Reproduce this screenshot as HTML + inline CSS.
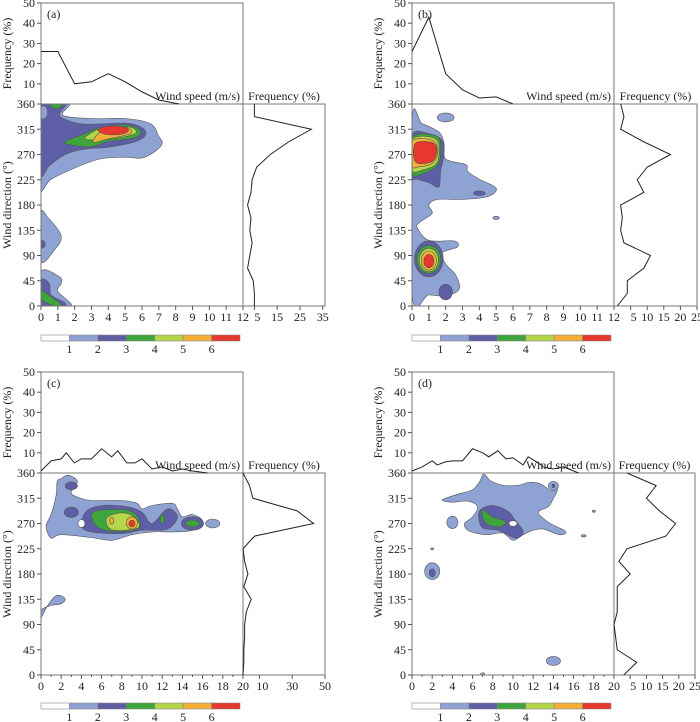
<!DOCTYPE html>
<html><head><meta charset="utf-8">
<style>
html,body{margin:0;padding:0;background:#fff;}
svg{display:block;font-family:"Liberation Serif",serif;}
</style></head>
<body>
<svg id="fig" width="700" height="722" viewBox="0 0 700 722" xmlns="http://www.w3.org/2000/svg" font-family="Liberation Serif, serif"></svg>
<script>
// ---------- DATA ----------
const levelColors = ["#8fa2d4","#5d5ea6","#3ea53c","#b5d54a","#f4b034","#e6382c"];
const levelLabels = ["1","2","3","4","5","6"];

// Panel a
const aSpeed = [0,1,2,3,4,5,6,7,8.2];
const aSpeedFreq = [26,26,10,11,15,11,6,2,0];
const aDirs = [0,22.5,45,67.5,90,112.5,135,157.5,180,202.5,225,247.5,270,292.5,315,337.5,360];
const aDirFreq = [5,5,4.5,2,3,4,3,3.5,2,3.5,4,6,12,20,30,5,5];
const aBlobs = [
 {lv:1,pts:[[0,362],[1.7,362],[1.3,340],[3,334],[5,334],[6.5,325],[7,302],[7.2,290],[6.8,276],[6,264],[5,265],[3.5,262],[2,246],[0.6,226],[-0.1,212]]},
 {lv:2,pts:[[-0.1,362],[0.4,362],[0.8,352],[1.2,362],[1.6,362],[1.1,340],[2,327],[3,324],[5,326],[6,318],[6.2,304],[5.5,292],[4,283],[3,281],[2,276],[1.2,266],[0.5,250],[-0.1,236]]},
 {lv:1,e:[0.15,345,0.25,12]},
 {lv:3,pts:[[1.4,292],[2.5,306],[3.5,318],[5,323],[5.9,313],[5.6,300],[4,293],[3,284],[2,286]]},
 {lv:4,pts:[[2.6,298],[3.2,312],[4.2,320],[5.4,318],[5.6,307],[4.5,299],[3.5,296]]},
 {lv:5,pts:[[3.1,292],[3.5,310],[4.3,320],[5.2,317],[5.3,307],[4,298]]},
 {lv:6,e:[4.3,313,0.9,8]},
 {lv:3,e:[0.9,358,0.35,6]},
 {lv:1,pts:[[0,165],[0.4,158],[1.2,125],[0.8,100],[0,80]]},
 {lv:2,e:[0.05,110,0.2,7]},
 {lv:1,pts:[[0,62],[1.1,52],[1.2,40],[1,26],[1.8,0],[0,0]]},
 {lv:2,pts:[[0,46],[0.5,40],[0.6,20],[1.4,6],[1.3,0],[0,0]]},
 {lv:3,pts:[[0,28],[0.8,12],[1.2,3],[0.9,0],[0.3,6],[0,14]]}
];
// Panel b
const bSpeed = [0,1,2,3,4,5,6];
const bSpeedFreq = [26,43,15,7,3,3.5,0];
const bDirs = aDirs;
const bDirFreq = [1,4,4,9,11,3,2,2.5,2,9,7,10,17,9,2,3,2];
const bBlobs = [
 {lv:1,pts:[[0,330],[0.6,325],[1.6,310],[1.9,290],[2,262],[3.2,252],[3.3,240],[4,226],[5,210],[4.5,195],[3,190],[1.5,190],[1,180],[1.2,165],[0.5,150],[0.3,140],[1,117],[2.5,116],[2.7,105],[1.8,95],[2,75],[2.6,55],[2.8,30],[2,18],[1,20],[0,20]]},
 {lv:1,e:[2,336,0.5,8]},
 {lv:1,e:[5,157,0.2,3]},
 {lv:2,pts:[[0,305],[1,307],[1.8,295],[1.9,270],[1.7,240],[1.6,212],[1,220],[0.3,226],[0,232]]},
 {lv:2,e:[4,201,0.35,4]},
 {lv:2,e:[2,25,0.4,14]},
 {lv:2,e:[1,84,0.85,32]},
 {lv:3,pts:[[0,300],[1.5,302],[1.7,272],[1.5,250],[0.8,238],[0,236]]},
 {lv:4,pts:[[0,297],[1.4,298],[1.6,270],[1.4,252],[0.6,242],[0,243]]},
 {lv:5,pts:[[0,294],[1.3,294],[1.5,270],[1.2,254],[0.4,248],[0,250]]},
 {lv:6,pts:[[0.2,290],[1.3,290],[1.45,270],[1.1,256],[0.2,257]]},
 {lv:3,e:[1,83,0.72,25]},
 {lv:4,e:[1,82,0.57,21]},
 {lv:5,e:[1,81,0.45,17]},
 {lv:6,e:[1,80,0.3,12]}
];
// Panel c
const cSpeed = [0,1,2,2.5,3.3,4,5,6,7,7.6,8.5,9.3,10,11,12,13,14,15,16.5];
const cSpeedFreq = [1,6,7,10,5,7,7,12,8,11,5,5,7,2,3,1,2,1,0];
const cDirs = aDirs;
const cDirFreq = [0,0.5,0.5,1,1,2,5,0.5,3,1,0,7,43,33,6,4,0];
const cBlobs = [
 {lv:1,pts:[[2,350],[2.7,356],[3.6,345],[3,326],[3.5,318],[5,311],[8,311],[9.5,306],[10,296],[11,302],[13,306],[13.5,296],[14,282],[15,286],[16,274],[15,258],[13,255],[11,255],[9,250],[7,240],[5,245],[2,250],[1,244],[0.5,265],[1,286],[1.5,320],[1.6,345]]},
 {lv:1,e:[17,270,0.7,8]},
 {lv:1,pts:[[0,102],[0.8,128],[1.6,142],[2.4,136],[2,127],[1,124],[0,116]]},
 {lv:2,e:[3,337,0.6,7]},
 {lv:2,e:[3,290,0.7,9]},
 {lv:2,pts:[[4.5,292],[6,302],[8.5,300],[10,290],[11,270],[12.5,296],[13.5,282],[12.5,260],[10,258],[8,252],[5,255],[4,266]]},
 {lv:2,e:[15,270,1.1,12]},
 {lv:3,pts:[[5,286],[6,294],[8.5,294],[9.6,282],[9.6,260],[7,256],[5.5,265]]},
 {lv:3,e:[15,270,0.7,6]},
 {lv:3,e:[12,278,0.2,8]},
 {lv:4,pts:[[6.5,280],[8,289],[9.3,281],[9.6,262],[7,259]]},
 {lv:5,e:[9,271,0.55,11]},
 {lv:5,e:[7,275,0.2,6]},
 {lv:6,e:[9,270,0.3,6]}
];
const cHoles = [[4,270,0.35,7]];
// Panel d
const dSpeed = [0,1,2,2.5,3.3,4,5,6,7,7.6,8.5,9.3,10,11,11.5,12.5,13,14,15,16.5];
const dSpeedFreq = [1,3,6,4,5.5,6,6,12,10,8,11,7,7.5,4,8,5,3,2,3,0];
const dDirs = aDirs;
const dDirFreq = [3,7,1,0.5,0,1,1,1,5,1.5,4,16,19,14,10,13,4];
const dBlobs = [
 {lv:1,pts:[[3,312],[4.5,322],[6,330],[6.7,345],[7.1,358],[7.8,346],[9,338],[10.5,338],[11.5,343],[12.5,342],[13.3,334],[13.8,328],[14,345],[14.4,330],[14,315],[13.5,300],[12.5,290],[13.5,272],[15.2,256],[14.6,250],[13,260],[12,258],[11,250],[10,240],[9,253],[7.5,250],[6.5,252],[5.5,258],[5.2,270],[6,282],[6.5,300],[5.5,310],[4,308]]},
 {lv:1,e:[4,272,0.55,11]},
 {lv:1,e:[2,185,0.75,15]},
 {lv:1,e:[14,25,0.7,8]},
 {lv:1,e:[14,337,0.5,8]},
 {lv:1,e:[17,248,0.25,2]},
 {lv:1,e:[18,292,0.15,2]},
 {lv:1,e:[2,225,0.15,2]},
 {lv:1,e:[7,2,0.2,2]},
 {lv:2,pts:[[6.8,295],[8,302],[9.5,292],[10.2,276],[11,256],[10.3,244],[8.5,258],[7,262],[6.6,280]]},
 {lv:2,e:[2,182,0.3,7]},
 {lv:2,e:[14,337,0.15,3]},
 {lv:3,pts:[[7,294],[8,282],[9.3,273],[8.6,264],[7.5,268],[7,280]]}
];
const dHoles = [[10,270,0.4,5]];

// ---------- DRAWING ----------
const svg = document.getElementById('fig');
const NS = 'http://www.w3.org/2000/svg';
function mk(tag, attrs, parent){
  const e = document.createElementNS(NS, tag);
  for (const k in attrs) e.setAttribute(k, attrs[k]);
  (parent||svg).appendChild(e);
  return e;
}
function txt(x,y,s,opt,parent){
  const t = mk('text',Object.assign({x:x,y:y,'font-size':12,fill:'#222','font-family':'Liberation Serif, serif'},opt||{}),parent);
  t.textContent = s;
  return t;
}
function smoothPath(p){
  const n=p.length; let d='M'+p[0][0].toFixed(1)+','+p[0][1].toFixed(1);
  for(let i=0;i<n;i++){
    const p0=p[(i-1+n)%n],p1=p[i],p2=p[(i+1)%n],p3=p[(i+2)%n];
    const c1=[p1[0]+(p2[0]-p0[0])/6,p1[1]+(p2[1]-p0[1])/6];
    const c2=[p2[0]-(p3[0]-p1[0])/6,p2[1]-(p3[1]-p1[1])/6];
    d+='C'+c1[0].toFixed(1)+','+c1[1].toFixed(1)+' '+c2[0].toFixed(1)+','+c2[1].toFixed(1)+' '+p2[0].toFixed(1)+','+p2[1].toFixed(1);
  }
  return d+'Z';
}

function panel(cfg){
  const g = mk('g',{});
  
  
  const X0=cfg.x0, X1=cfg.x0+202, R1=cfg.r1, T0=cfg.y0, MT=cfg.y0+101, MB=cfg.y0+303;
  const sx = v => X0 + v/cfg.smax*(X1-X0);
  const sy = v => MB - v/360*(MB-MT);
  const fy = v => MT - v/50*(MT-T0);
  const fx = v => X1 + v/cfg.fmax*(R1-X1);

  const cg = mk('g',{},g);
  
  
  const clip = mk('clipPath',{id:'clip'+cfg.id},g);
  mk('rect',{x:X0,y:MT,width:X1-X0,height:MB-MT},clip);
  cg.setAttribute('clip-path','url(#clip'+cfg.id+')');
  cfg.blobs.forEach((b,i)=>{
    let el;
    if(b.e){
      el = mk('ellipse',{cx:sx(b.e[0]),cy:sy(b.e[1]),rx:b.e[2]/cfg.smax*202,ry:b.e[3]/360*202},cg);
    } else {
      el = mk('path',{d:smoothPath(b.pts.map(q=>[sx(q[0]),sy(q[1])]))},cg);
    }
    el.setAttribute('fill',levelColors[b.lv-1]);
    el.setAttribute('stroke','#555');
    el.setAttribute('stroke-width','0.6');
    
    
  });
  (cfg.holes||[]).forEach(h=>{
    const el = mk('ellipse',{cx:sx(h[0]),cy:sy(h[1]),rx:h[2]/cfg.smax*202,ry:h[3]/360*202,fill:'#fff',stroke:'#555','stroke-width':0.6},cg);
    
    
  });

  const fr = mk('path',{d:`M${X0},${MT}V${T0}H${X1}V${MB}M${X0},${MT}H${R1}V${MB}H${X0}Z`,fill:'none',stroke:'#777','stroke-width':1},g);
  
  

  [0,45,90,135,180,225,270,315,360].forEach(v=>{
    mk('line',{x1:X0-4,x2:X0,y1:sy(v),y2:sy(v),stroke:'#555'},g);
    const t=txt(X0-6,sy(v)+4,String(v),{'text-anchor':'end'},g);
    
    
  });
  [10,20,30,40,50].forEach(v=>{
    mk('line',{x1:X0-4,x2:X0,y1:fy(v),y2:fy(v),stroke:'#555'},g);
    const t=txt(X0-6,fy(v)+4,String(v),{'text-anchor':'end'},g);
    
    
  });
  for(let v=0; v<=cfg.smax; v++){
    const major = v % cfg.xstep === 0;
    mk('line',{x1:sx(v),x2:sx(v),y1:MB,y2:MB+(major?4:2),stroke:'#555'},g);
    if(major){
      const t=txt(sx(v),MB+15,String(v),{'text-anchor':'middle'},g);
      
      
    }
  }
  cfg.fticks.forEach(v=>{
    mk('line',{x1:fx(v),x2:fx(v),y1:MB,y2:MB+4,stroke:'#555'},g);
    const t=txt(fx(v)+(v===cfg.fticks[0]?3:0),MB+15,String(v),{'text-anchor':'middle'},g);
    
    
  });
  let t=txt(0,0,'Frequency (%)',{'text-anchor':'middle',transform:`translate(${X0-30},${(T0+MT)/2}) rotate(-90)`},g);
   
  t=txt(0,0,'Wind direction (°)',{'text-anchor':'middle',transform:`translate(${X0-30},${(MT+MB)/2}) rotate(-90)`},g);
   
  t=txt(X1-3,MT-4,'Wind  speed (m/s)',{'text-anchor':'end'},g);
   
  t=txt((X1+R1)/2,MT-4,'Frequency (%)',{'text-anchor':'middle'},g);
   
  t=txt(X0+6,T0+15,'('+cfg.id+')',{},g);
   

  let p=mk('polyline',{points:cfg.sp.map((s,i)=>sx(s)+','+fy(cfg.spf[i])).join(' '),fill:'none',stroke:'#222','stroke-width':1},g);
   
  p=mk('polyline',{points:cfg.dr.map((d,i)=>fx(cfg.drf[i])+','+sy(d)).join(' '),fill:'none',stroke:'#222','stroke-width':1},g);
   

  const cb = mk('g',{},g);
  
  
  const bw=(cfg.cbw)/7, cy=cfg.cby;
  ['#ffffff'].concat(levelColors).forEach((c,i)=>{
    const r=mk('rect',{x:X0+i*bw,y:cy,width:bw,height:6,fill:c,stroke:'#888','stroke-width':0.6},cb);
    
    
  });
  levelLabels.forEach((l,i)=>{
    const tt=txt(X0+(i+1)*bw,cy+18,l,{'text-anchor':'middle'},cb);
    
    
  });
}

panel({id:'a',x0:41,r1:325,y0:3,smax:12,xstep:1,fmax:36,fticks:[5,15,25,35],sp:aSpeed,spf:aSpeedFreq,dr:aDirs,drf:aDirFreq,blobs:aBlobs,cby:335,cbw:199});
panel({id:'b',x0:412,r1:697,y0:3,smax:12,xstep:1,fmax:25,fticks:[5,10,15,20,25],sp:bSpeed,spf:bSpeedFreq,dr:bDirs,drf:bDirFreq,blobs:bBlobs,cby:335,cbw:199});
panel({id:'c',x0:41,r1:325,y0:372,smax:20,xstep:2,fmax:50,fticks:[10,30,50],sp:cSpeed,spf:cSpeedFreq,dr:cDirs,drf:cDirFreq,blobs:cBlobs,holes:cHoles,cby:703,cbw:199});
panel({id:'d',x0:412,r1:695,y0:372,smax:20,xstep:2,fmax:25,fticks:[5,10,15,20,25],sp:dSpeed,spf:dSpeedFreq,dr:dDirs,drf:dDirFreq,blobs:dBlobs,holes:dHoles,cby:703,cbw:199});
</script>
</body></html>
